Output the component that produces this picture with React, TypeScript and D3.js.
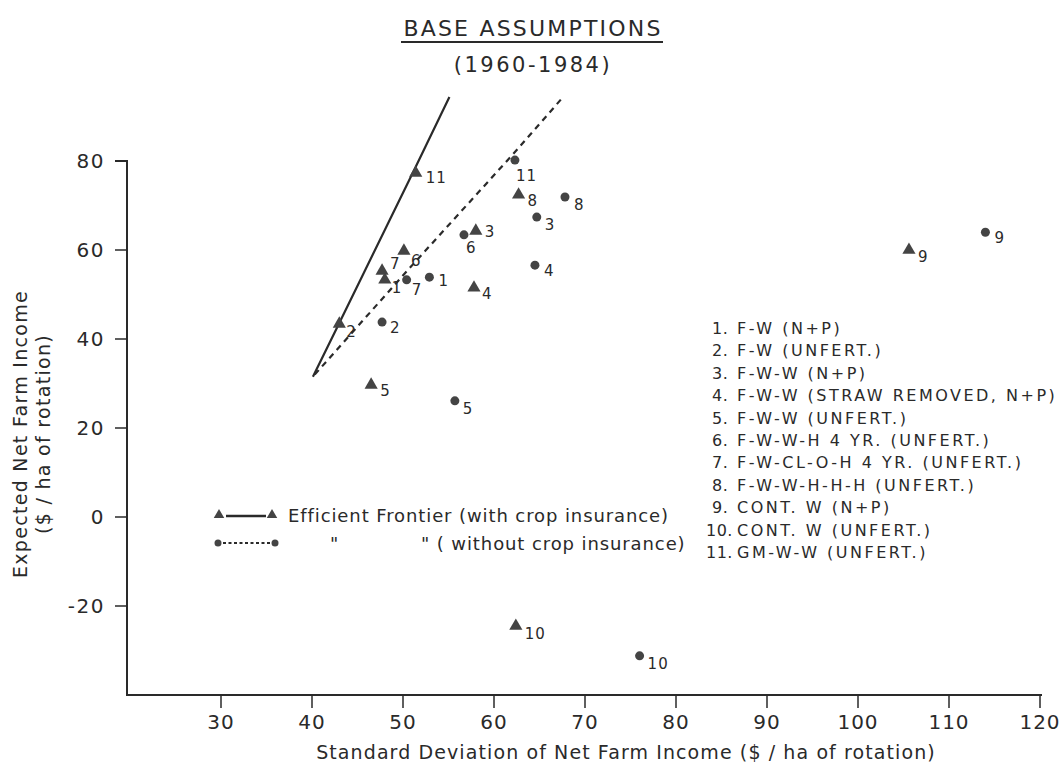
import React, { useEffect, useRef } from "react";
import * as d3 from "d3";

// rotation ids 1..11
const rotationIds = [1, 2, 3, 4, 5, 6, 7, 8, 9, 10, 11];

// with crop insurance (triangles): standard deviation, expected income
const withSd = [48.0, 43.0, 58.0, 57.8, 46.5, 50.1, 47.7, 62.7, 105.6, 62.4, 51.4];
const withMean = [53.3, 43.4, 64.3, 51.5, 29.7, 59.8, 55.3, 72.4, 60.0, -24.5, 77.3];

// without crop insurance (circles)
const withoutSd = [52.9, 47.7, 64.7, 64.5, 55.7, 56.7, 50.4, 67.8, 114.0, 76.0, 62.3];
const withoutMean = [53.9, 43.8, 67.4, 56.6, 26.1, 63.4, 53.3, 71.9, 64.0, -31.2, 80.2];

// efficient frontiers drawn as straight segments
const frontierWithSd = [40.1, 43.0, 51.4, 55.1];
const frontierWithMean = [31.5, 43.6, 78.7, 94.4];
const frontierWithoutSd = [40.3, 50.4, 62.3, 67.6];
const frontierWithoutMean = [32.0, 55.2, 82.0, 94.4];

const xTicks = [30, 40, 50, 60, 70, 80, 90, 100, 110, 120];
const yTicks = [80, 60, 40, 20, 0, -20];

const rotationNames = [
    "F-W (N+P)",
    "F-W (UNFERT.)",
    "F-W-W (N+P)",
    "F-W-W (STRAW REMOVED, N+P)",
    "F-W-W (UNFERT.)",
    "F-W-W-H  4 YR. (UNFERT.)",
    "F-W-CL-O-H  4 YR. (UNFERT.)",
    "F-W-W-H-H-H (UNFERT.)",
    "CONT. W (N+P)",
    "CONT. W (UNFERT.)",
    "GM-W-W (UNFERT.)",
];

// label nudges for the point numbers (layout only)
const triNudge: Record<number, [number, number]> = {
    1: [7, 13], 2: [7, 13], 3: [9, 6], 4: [8, 11], 5: [9, 11], 6: [7, 15],
    7: [8, -2], 8: [9, 11], 9: [9, 12], 10: [9, 13], 11: [10, 10],
};
const circNudge: Record<number, [number, number]> = {
    1: [9, 9], 2: [8, 11], 3: [8, 13], 4: [9, 11], 5: [8, 13], 6: [2, 18],
    7: [5, 15], 8: [9, 13], 9: [9, 11], 10: [8, 13], 11: [1, 21],
};

const FONT = "'DejaVu Sans', 'Noto Sans', sans-serif";
const INK = "#2a2a2a";

export default function App() {
    const svgRef = useRef<SVGSVGElement>(null);

    useEffect(() => {
        const svg = d3.select(svgRef.current);
        svg.selectAll("*").remove();

        const x = d3.scaleLinear().domain([20, 120]).range([130, 1040]);
        const y = d3.scaleLinear().domain([-40, 80]).range([695, 161]);

        const g = svg.append("g").style("font-family", FONT).attr("fill", INK);

        // title
        g.append("text").attr("x", 533).attr("y", 36).attr("text-anchor", "middle")
            .style("font-size", "22px").style("letter-spacing", "2.2px").text("BASE ASSUMPTIONS");
        g.append("line").attr("x1", 401).attr("x2", 663).attr("y1", 42).attr("y2", 42)
            .attr("stroke", INK).attr("stroke-width", 2.2);
        g.append("text").attr("x", 533).attr("y", 72).attr("text-anchor", "middle")
            .style("font-size", "21px").style("letter-spacing", "2.5px").text("(1960-1984)");

        // axes
        const axisY = 695;
        const axisX = 127;
        g.append("path")
            .attr("d", `M${axisX - 12},${y(80)}H${axisX}V${axisY}H${x(120) + 2}`)
            .attr("fill", "none").attr("stroke", INK).attr("stroke-width", 2);

        g.selectAll(".ytick").data(yTicks).enter().append("line")
            .attr("x1", axisX - 12).attr("x2", axisX)
            .attr("y1", d => y(d)).attr("y2", d => y(d))
            .attr("stroke", INK).attr("stroke-width", 1.5);
        g.selectAll(".ylab").data(yTicks).enter().append("text")
            .attr("x", axisX - 22).attr("y", d => y(d) + 7).attr("text-anchor", "end")
            .style("font-size", "20px").style("letter-spacing", "1.5px").text(d => d);

        g.selectAll(".xtick").data(xTicks).enter().append("line")
            .attr("x1", d => x(d)).attr("x2", d => x(d))
            .attr("y1", axisY).attr("y2", axisY + 13)
            .attr("stroke", INK).attr("stroke-width", 1.5);
        g.selectAll(".xlab").data(xTicks).enter().append("text")
            .attr("x", d => x(d)).attr("y", 729).attr("text-anchor", "middle")
            .style("font-size", "20px").style("letter-spacing", "1px").text(d => d);

        // axis titles
        g.append("text").attr("x", 626).attr("y", 759).attr("text-anchor", "middle")
            .style("font-size", "19px").style("letter-spacing", "1.1px")
            .text("Standard Deviation of Net Farm Income ($ / ha of rotation)");
        g.append("text").attr("transform", "translate(27,434) rotate(-90)").attr("text-anchor", "middle")
            .style("font-size", "19px").style("letter-spacing", "1.3px").text("Expected Net Farm Income");
        g.append("text").attr("transform", "translate(50,434) rotate(-90)").attr("text-anchor", "middle")
            .style("font-size", "19px").style("letter-spacing", "1.3px").text("($ / ha of rotation)");

        // frontiers
        const line = d3.line<[number, number]>().x(d => x(d[0])).y(d => y(d[1]));
        const fWith = frontierWithSd.map((s, i) => [s, frontierWithMean[i]] as [number, number]);
        const fWithout = frontierWithoutSd.map((s, i) => [s, frontierWithoutMean[i]] as [number, number]);
        g.append("path").attr("d", line(fWith)).attr("fill", "none")
            .attr("stroke", INK).attr("stroke-width", 2.2);
        g.append("path").attr("d", line(fWithout)).attr("fill", "none")
            .attr("stroke", INK).attr("stroke-width", 2.2).attr("stroke-dasharray", "6,5");

        const tri = d3.symbol().type(d3.symbolTriangle).size(75);

        // triangles
        const tris = rotationIds.map((id, i) => ({ id, sd: withSd[i], m: withMean[i] }));
        g.selectAll(".tri").data(tris).enter().append("path")
            .attr("d", tri()).attr("fill", "#444")
            .attr("transform", d => `translate(${x(d.sd)},${y(d.m)})`);
        g.selectAll(".trilab").data(tris).enter().append("text")
            .attr("x", d => x(d.sd) + triNudge[d.id][0])
            .attr("y", d => y(d.m) + triNudge[d.id][1])
            .style("font-size", "15px").style("letter-spacing", "1px").text(d => d.id);

        // circles
        const circs = rotationIds.map((id, i) => ({ id, sd: withoutSd[i], m: withoutMean[i] }));
        g.selectAll(".circ").data(circs).enter().append("circle")
            .attr("cx", d => x(d.sd)).attr("cy", d => y(d.m)).attr("r", 4.5).attr("fill", "#444");
        g.selectAll(".circlab").data(circs).enter().append("text")
            .attr("x", d => x(d.sd) + circNudge[d.id][0])
            .attr("y", d => y(d.m) + circNudge[d.id][1])
            .style("font-size", "15px").style("letter-spacing", "1px").text(d => d.id);

        // frontier legend
        const lg = g.append("g");
        lg.append("path").attr("d", tri()).attr("fill", "#444").attr("transform", "translate(219,515) scale(0.8)");
        lg.append("path").attr("d", tri()).attr("fill", "#444").attr("transform", "translate(272,515) scale(0.8)");
        lg.append("line").attr("x1", 226).attr("x2", 266).attr("y1", 516).attr("y2", 516)
            .attr("stroke", INK).attr("stroke-width", 2.5);
        lg.append("text").attr("x", 288).attr("y", 522).style("font-size", "18px").style("letter-spacing", "0.9px")
            .text("Efficient  Frontier (with crop insurance)");
        lg.append("circle").attr("cx", 218).attr("cy", 543).attr("r", 3.5).attr("fill", "#444");
        lg.append("circle").attr("cx", 275).attr("cy", 543).attr("r", 3.5).attr("fill", "#444");
        lg.append("line").attr("x1", 223).attr("x2", 271).attr("y1", 543).attr("y2", 543)
            .attr("stroke", INK).attr("stroke-width", 2).attr("stroke-dasharray", "3,2.5");
        lg.append("text").attr("x", 330).attr("y", 550).style("font-size", "18px").text("\"");
        lg.append("text").attr("x", 421).attr("y", 550).style("font-size", "18px").style("letter-spacing", "0.9px")
            .text("\" ( without crop insurance)");

        // rotation list
        const list = g.append("g");
        const rows = rotationIds.map((id, i) => ({ id, name: rotationNames[i] }));
        const rowY = d3.scaleLinear().domain([1, 11]).range([334, 558]);
        list.selectAll(".num").data(rows).enter().append("text")
            .attr("x", d => (d.id >= 10 ? 706 : 712)).attr("y", d => rowY(d.id))
            .style("font-size", "16px").style("letter-spacing", "0.5px").text(d => d.id + ".");
        list.selectAll(".name").data(rows).enter().append("text")
            .attr("x", 737).attr("y", d => rowY(d.id))
            .style("font-size", "16px").style("letter-spacing", "2.5px").text(d => d.name);
    }, []);

    return <svg ref={svgRef} width={1060} height={768} style={{ position: "absolute", left: 0, top: 0, background: "#fff" }} />;
}
